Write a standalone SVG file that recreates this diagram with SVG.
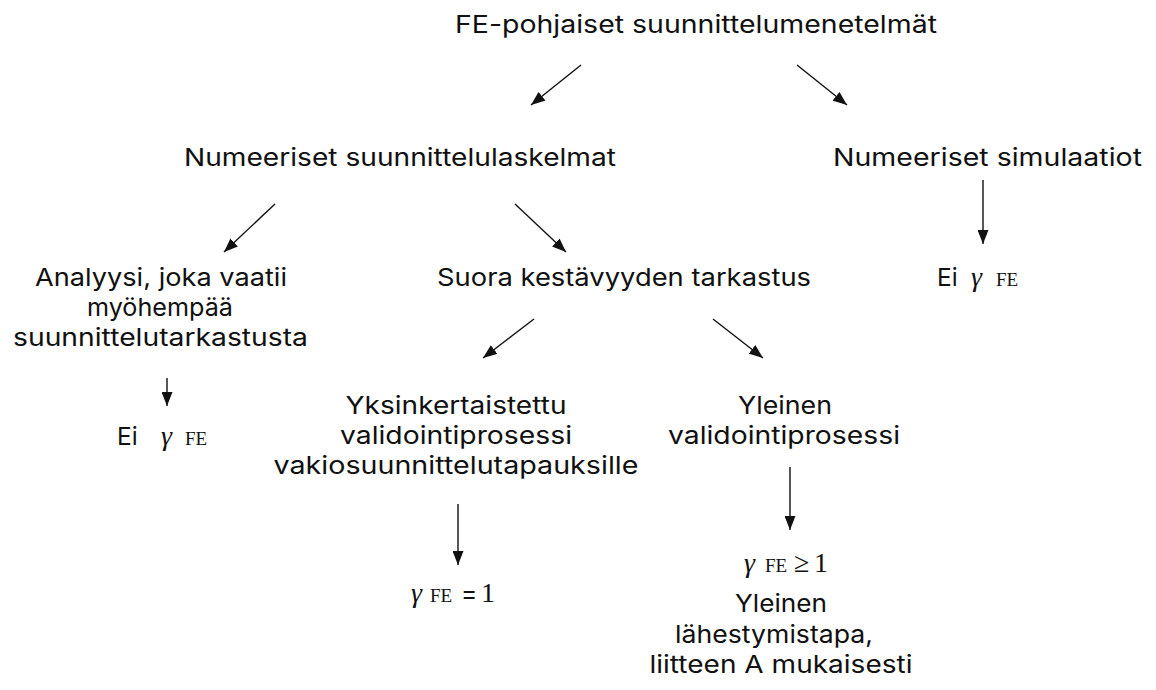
<svg xmlns="http://www.w3.org/2000/svg" width="1156" height="690" viewBox="0 0 1156 690">
<defs>
<style>
.t{font-family:Inter,"Open Sans",sans-serif;font-size:24.5px;fill:#111;text-anchor:middle}
.l{font-family:Inter,"Open Sans",sans-serif;font-size:24.5px;fill:#111}
.g{font-family:"Liberation Serif","DejaVu Serif",serif;font-style:italic;font-size:28px;fill:#111}
.s{font-family:"Liberation Serif","DejaVu Serif",serif;font-size:19px;fill:#111}
.n{font-family:"Liberation Serif","DejaVu Serif",serif;font-size:28px;fill:#111}
.c line{stroke:#111;stroke-width:1.4;marker-end:url(#ah)}
</style>
<marker id="ah" markerUnits="userSpaceOnUse" markerWidth="15" markerHeight="11" refX="14" refY="5.5" orient="auto">
<path d="M0,0 L14,5.5 L0,11 z" fill="#111"/>
</marker>
</defs>
<rect width="1156" height="690" fill="#fff"/>
<g id="n-root"><text class="t" x="696" y="33" textLength="482" lengthAdjust="spacingAndGlyphs">FE-pohjaiset suunnittelumenetelmät</text></g>
<g id="n-calc"><text class="t" x="400" y="166" textLength="432" lengthAdjust="spacingAndGlyphs">Numeeriset suunnittelulaskelmat</text></g>
<g id="n-sim"><text class="t" x="987.5" y="166" textLength="309" lengthAdjust="spacingAndGlyphs">Numeeriset simulaatiot</text></g>
<g id="n-sim-ei"><text class="l" x="937" y="286">Ei</text><text class="g" x="971" y="286">γ</text><text class="s" x="996" y="286">FE</text></g>
<g id="n-analysis"><text class="t" x="161" y="286" textLength="252" lengthAdjust="spacingAndGlyphs">Analyysi, joka vaatii</text><text class="t" x="160" y="316" textLength="146" lengthAdjust="spacingAndGlyphs">myöhempää</text><text class="t" x="160.5" y="346" textLength="295" lengthAdjust="spacingAndGlyphs">suunnittelutarkastusta</text></g>
<g id="n-analysis-ei"><text class="l" x="117" y="445">Ei</text><text class="g" x="161" y="445">γ</text><text class="s" x="185" y="445">FE</text></g>
<g id="n-direct"><text class="t" x="624" y="286" textLength="374" lengthAdjust="spacingAndGlyphs">Suora kestävyyden tarkastus</text></g>
<g id="n-simple"><text class="t" x="456" y="414" textLength="221" lengthAdjust="spacingAndGlyphs">Yksinkertaistettu</text><text class="t" x="456" y="444" textLength="232" lengthAdjust="spacingAndGlyphs">validointiprosessi</text><text class="t" x="456" y="474" textLength="365" lengthAdjust="spacingAndGlyphs">vakiosuunnittelutapauksille</text></g>
<g id="n-simple-g"><text class="g" x="411" y="602">γ</text><text class="s" x="430" y="602">FE</text><text class="l" x="461" y="602">=</text><text class="n" x="481" y="602">1</text></g>
<g id="n-general"><text class="t" x="785" y="414" textLength="94" lengthAdjust="spacingAndGlyphs">Yleinen</text><text class="t" x="784" y="444" textLength="232" lengthAdjust="spacingAndGlyphs">validointiprosessi</text></g>
<g id="n-general-g"><text class="g" x="744" y="572">γ</text><text class="s" x="765" y="572">FE</text><text class="n" x="794" y="572">≥</text><text class="n" x="814" y="572">1</text><text class="t" x="781" y="612" textLength="92" lengthAdjust="spacingAndGlyphs">Yleinen</text><text class="t" x="774" y="643" textLength="198" lengthAdjust="spacingAndGlyphs">lähestymistapa,</text><text class="t" x="781" y="673" textLength="263" lengthAdjust="spacingAndGlyphs">liitteen A mukaisesti</text></g>
<g id="connectors" class="c">
<line x1="581" y1="65" x2="531" y2="105"/>
<line x1="797" y1="65" x2="847" y2="105"/>
<line x1="275" y1="204" x2="224" y2="252"/>
<line x1="515" y1="204" x2="566" y2="252"/>
<line x1="534" y1="319" x2="483" y2="358"/>
<line x1="713" y1="319" x2="763" y2="358"/>
<line x1="983" y1="180" x2="983" y2="244"/>
<line x1="167" y1="378" x2="167" y2="406"/>
<line x1="458" y1="504" x2="458" y2="565"/>
<line x1="790" y1="467" x2="790" y2="530"/>
</g>
</svg>
